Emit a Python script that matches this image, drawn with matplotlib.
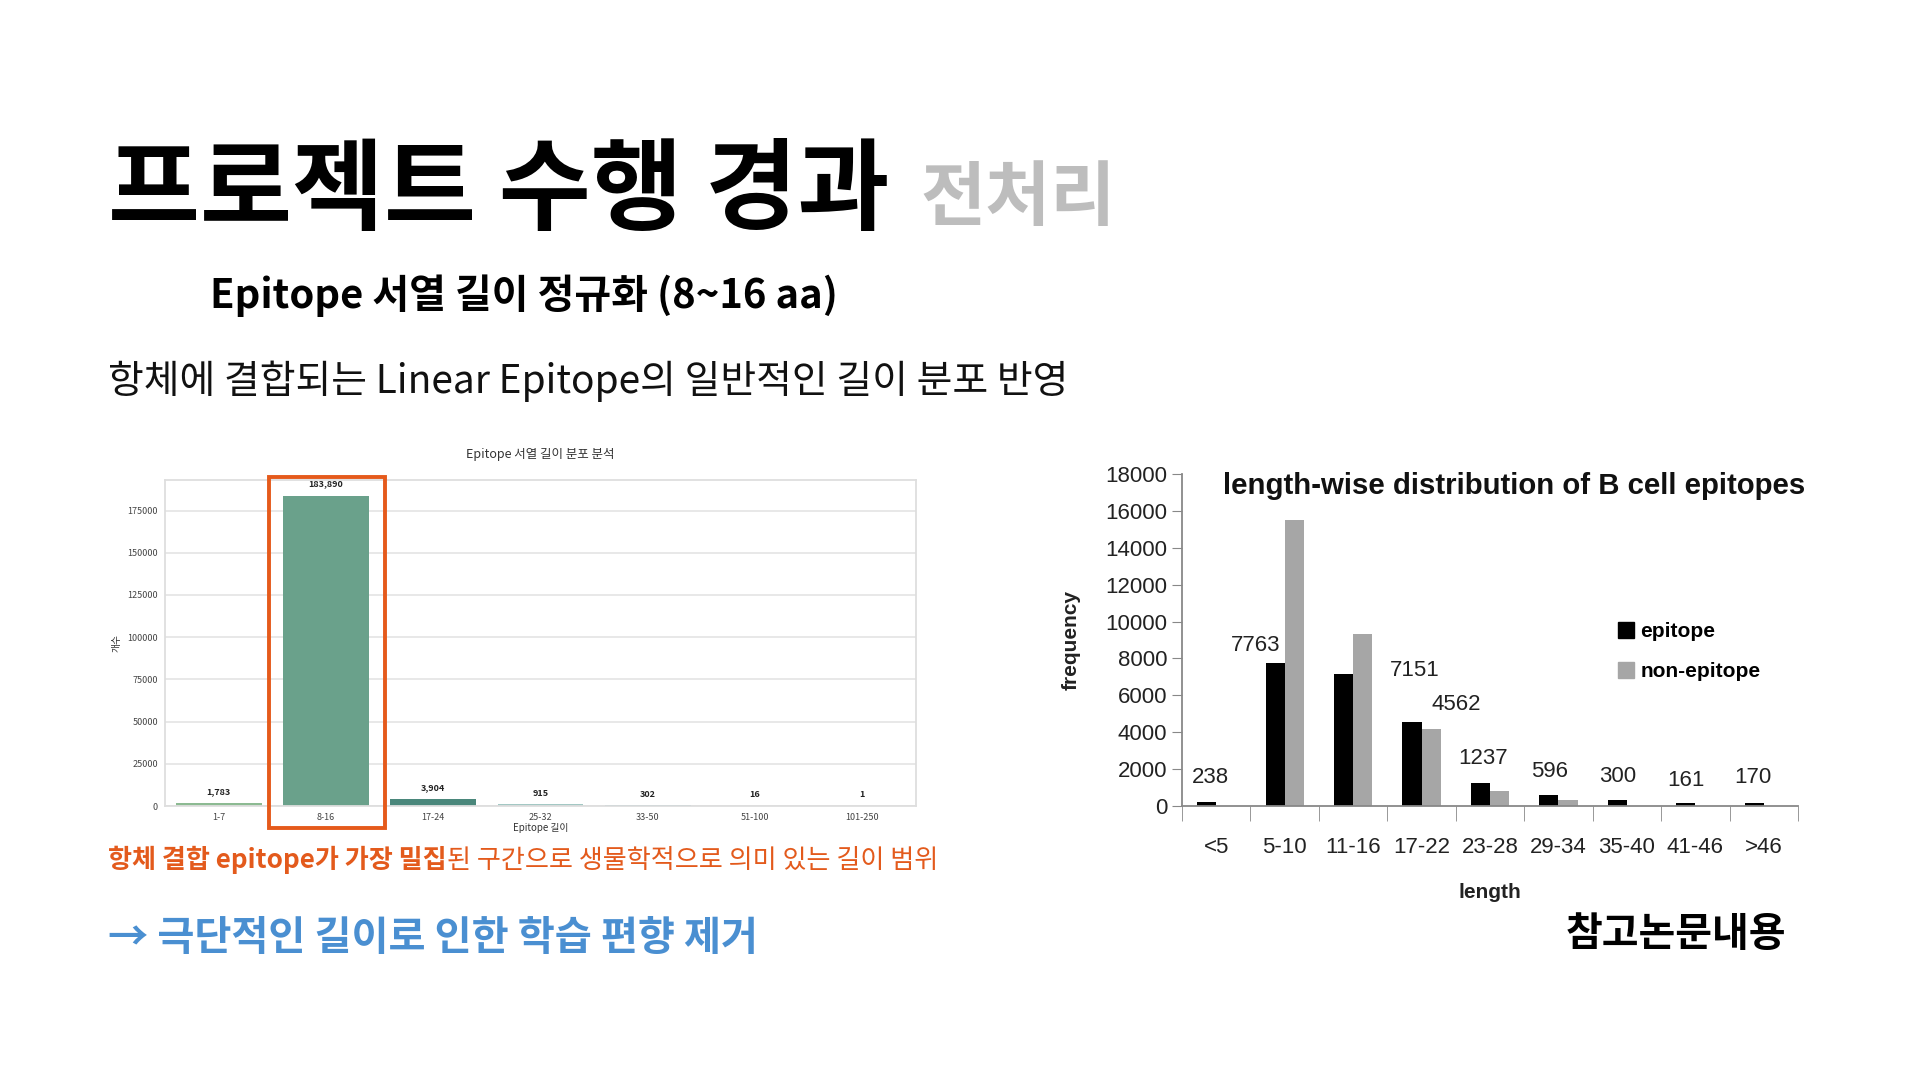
import numpy as np
import matplotlib
matplotlib.use("Agg")
import matplotlib.pyplot as plt
from matplotlib.patches import Rectangle
from matplotlib.lines import Line2D

plt.rcParams['font.family'] = ['Noto Sans CJK KR', 'DejaVu Sans']

# left chart: our data
len_bins = ["1-7", "8-16", "17-24", "25-32", "33-50", "51-100", "101-250"]
len_counts = [1783, 183890, 3904, 915, 302, 16, 1]
bin_colors = ["#8cba92", "#6aa18b", "#4a877b", "#a3c8c4", "#7fb0b5", "#5f93a8", "#4d7c9c"]

# right chart: reference paper
ref_bins = ["<5", "5-10", "11-16", "17-22", "23-28", "29-34", "35-40", "41-46", ">46"]
epitope = [238, 7763, 7151, 4562, 1237, 596, 300, 161, 170]
non_epitope = [0, 15500, 9350, 4150, 820, 340, 0, 0, 0]
# where the value labels sit (x in category units, y in data units)
label_x = [-0.09, 0.57, 2.9, 3.5, 3.9, 4.87, 5.87, 6.87, 7.84]
label_y = [1530, 8700, 7370, 5510, 2590, 1860, 1590, 1400, 1530]

fig = plt.figure(figsize=(19.2, 10.8), dpi=100)
W, H = 1920, 1080
narrow = ['Liberation Sans Narrow', 'Liberation Sans', 'DejaVu Sans']

def fx(px):
    return px / W

def fy(py):
    return 1 - py / H

# headings
fig.text(fx(108), fy(222), "프로젝트 수행 경과", fontsize=72, fontweight='black', color='black', va='baseline')
fig.text(fx(920), fy(220), "전처리", fontsize=51, fontweight='bold', color='#bdbdbd', va='baseline')
fig.text(fx(210), fy(296), "Epitope 서열 길이 정규화 (8~16 aa)", fontsize=28.8, fontweight='bold', va='center')
fig.text(fx(108), fy(381), "항체에 결합되는 Linear Epitope의 일반적인 길이 분포 반영", fontsize=28, va='center', color='#111111')

# orange note, bold part + regular part
t1 = fig.text(fx(108), fy(860), "항체 결합 epitope가 가장 밀집", fontsize=18.8, fontweight='bold', color='#e35a1c', va='center')
fig.canvas.draw()
bb = t1.get_window_extent(fig.canvas.get_renderer())
fig.text(bb.x1 / W, fy(860), "된 구간으로 생물학적으로 의미 있는 길이 범위", fontsize=18.8, color='#e35a1c', va='center')

fig.text(fx(108), fy(938), "→ 극단적인 길이로 인한 학습 편향 제거", fontsize=29, fontweight='bold', color='#4a8fd1', va='center')
fig.text(fx(1566), fy(934), "참고논문내용", fontsize=28.8, fontweight='bold', va='center')

# ---- left chart ----
ax1 = fig.add_axes([fx(165), fy(806), fx(916) - fx(165), fy(480) - fy(806)])
x1 = np.arange(len(len_bins))
ax1.bar(x1, len_counts, width=0.8, color=bin_colors, zorder=2)
ax1.set_xlim(-0.5, len(len_bins) - 0.5)
ax1.set_ylim(0, max(len_counts) * 1.05)
ax1.set_yticks(np.arange(0, 175001, 25000))
ax1.set_xticks(x1)
ax1.set_xticklabels(len_bins)
ax1.tick_params(length=0, labelsize=6.5, labelcolor='#444444', pad=5)
ax1.grid(axis='y', color='#e6e6e6', linewidth=1.3, zorder=0)
for s in ax1.spines.values():
    s.set_color('#dedede')
    s.set_linewidth(1.3)
for i, v in enumerate(len_counts):
    ax1.annotate(f"{v:,}", (i, v), xytext=(0, 5), textcoords='offset points',
                 ha='center', va='bottom', fontsize=6.5, fontweight='bold', color='#222222')
ax1.set_title("Epitope 서열 길이 분포 분석", fontsize=9, color='#333333', pad=16)
ax1.set_xlabel("Epitope 길이", fontsize=7, color='#333333', labelpad=1)
ax1.set_ylabel("개수", fontsize=7, color='#333333', labelpad=4)

# highlight box around 8-16
box = Rectangle((0.47, -0.068), 1.08, 1.076, transform=ax1.get_xaxis_transform(),
                fill=False, edgecolor='#e55a1b', linewidth=2.8, clip_on=False, zorder=5)
ax1.add_patch(box)

# ---- right chart ----
ax2 = fig.add_axes([fx(1182), fy(806), fx(1798) - fx(1182), fy(474) - fy(806)])
x2 = np.arange(len(ref_bins))
bw = 0.28
ax2.bar(x2 - bw / 2, epitope, width=bw, color='black', label='epitope')
ax2.bar(x2 + bw / 2, non_epitope, width=bw, color='#a6a6a6', label='non-epitope')
ax2.set_xlim(-0.5, len(ref_bins) - 0.5)
ax2.set_ylim(0, 18000)
ax2.set_yticks(np.arange(0, 18001, 2000))
ax2.set_xticks(x2)
ax2.set_xticklabels(ref_bins)
ax2.set_xticks(np.arange(-0.5, len(ref_bins), 1), minor=True)
ax2.tick_params(axis='x', which='major', length=0, pad=22)
ax2.tick_params(axis='x', which='minor', length=11, direction='out', color='#888888')
ax2.tick_params(axis='y', length=7, direction='out', color='#888888')
ax2.tick_params(labelsize=16, labelcolor='#222222')
for lab in ax2.get_xticklabels() + ax2.get_yticklabels():
    lab.set_family(narrow)
ax2.spines['top'].set_visible(False)
ax2.spines['right'].set_visible(False)
ax2.spines['left'].set_color('#888888')
ax2.spines['bottom'].set_color('#888888')
ax2.spines['left'].set_linewidth(1.3)
ax2.spines['bottom'].set_linewidth(1.3)

for lx, ly, v in zip(label_x, label_y, epitope):
    ax2.text(lx, ly, str(v), ha='center', va='center', fontsize=16, color='#222222', family=narrow)

ax2.text(0.066, 0.963, "length-wise distribution of B cell epitopes", transform=ax2.transAxes,
         ha='left', va='center', fontsize=21.2, fontweight='bold', color='#111111', family=narrow)
ax2.set_xlabel("length", fontsize=15, fontweight='bold', color='#222222', labelpad=18, family=narrow)
ax2.set_ylabel("frequency", fontsize=15, fontweight='bold', color='#222222', labelpad=18, family=narrow)

handles = [Line2D([], [], marker='s', linestyle='none', markersize=12, color='black'),
           Line2D([], [], marker='s', linestyle='none', markersize=12, color='#a6a6a6')]
ax2.legend(handles, ['epitope', 'non-epitope'], loc='upper left', bbox_to_anchor=(0.67, 0.61),
           frameon=False, handletextpad=0.1, handlelength=1.2, labelspacing=1.0,
           prop={'family': ['Liberation Sans'], 'weight': 'bold', 'size': 15})

fig.savefig("out.png", dpi=100)
